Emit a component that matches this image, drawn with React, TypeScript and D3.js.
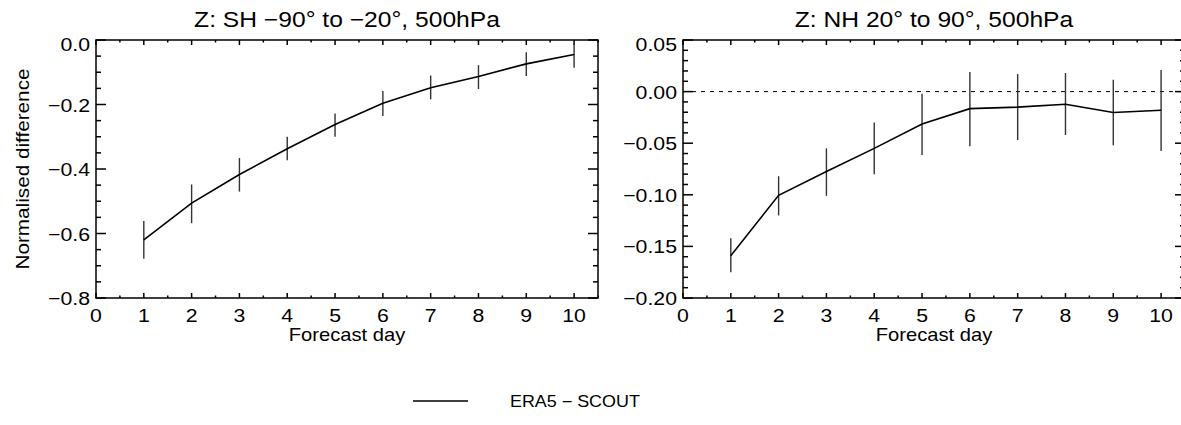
import React from 'react';
import * as d3 from 'd3';

// ---- data ----
const days = [1, 2, 3, 4, 5, 6, 7, 8, 9, 10];
const xTickValues = [0, 1, 2, 3, 4, 5, 6, 7, 8, 9, 10];

const shTitle = 'Z: SH \u221290\u00b0 to \u221220\u00b0, 500hPa';
const shValues = [-0.62, -0.506, -0.417, -0.337, -0.262, -0.196, -0.148, -0.113, -0.074, -0.045];
const shLower = [-0.678, -0.568, -0.470, -0.373, -0.300, -0.236, -0.184, -0.152, -0.112, -0.086];
const shUpper = [-0.561, -0.448, -0.366, -0.300, -0.228, -0.158, -0.110, -0.078, -0.038, -0.008];
const shYTicks = [0, -0.2, -0.4, -0.6, -0.8];

const nhTitle = 'Z: NH 20\u00b0 to 90\u00b0, 500hPa';
const nhValues = [-0.159, -0.1005, -0.0775, -0.055, -0.0315, -0.0165, -0.015, -0.0123, -0.0203, -0.018];
const nhLower = [-0.175, -0.120, -0.101, -0.080, -0.0615, -0.053, -0.047, -0.042, -0.052, -0.0575];
const nhUpper = [-0.142, -0.082, -0.055, -0.030, -0.002, 0.019, 0.017, 0.018, 0.0115, 0.021];
const nhYTicks = [0.05, 0, -0.05, -0.1, -0.15, -0.2];

const legendLabel = 'ERA5 \u2212 SCOUT';
const xAxisTitle = 'Forecast day';
const yAxisTitle = 'Normalised difference';

// ---- style ----
const FONT = '"Liberation Sans", Arial, Helvetica, sans-serif';
const SX = 1.12;

type TProps = {
  x: number; y: number; size: number; anchor?: string; rotate?: number; children: React.ReactNode;
};
function T({ x, y, size, anchor = 'middle', rotate = 0, children }: TProps) {
  return (
    <text
      transform={`translate(${x},${y}) rotate(${rotate}) scale(${SX},1)`}
      fontSize={size}
      fontFamily={FONT}
      textAnchor={anchor}
      fill="#000"
    >
      {children}
    </text>
  );
}

type PanelProps = {
  left: number; right: number; top: number; bottom: number;
  yDomain: [number, number];
  yTicks: number[];
  yMinorStep: number;
  yFormat: string;
  values: number[]; lower: number[]; upper: number[];
  title: string;
  showYTitle: boolean;
  zeroLine: boolean;
};

function Panel(p: PanelProps) {
  const x = d3.scaleLinear().domain([0, 10.5]).range([p.left, p.right]);
  const y = d3.scaleLinear().domain(p.yDomain).range([p.bottom, p.top]);
  const fmt = d3.format(p.yFormat);
  const nMinorY = Math.round((p.yDomain[1] - p.yDomain[0]) / p.yMinorStep);
  const yMinor = d3.range(0, nMinorY + 1).map((i) => p.yDomain[0] + i * p.yMinorStep);
  const xMinor = d3.range(0, 22).map((i) => i * 0.5);
  const line = d3
    .line<number>()
    .x((_, i) => x(days[i]))
    .y((d) => y(d));
  const yMajLen = 10, yMinLen = 5, xMajLen = 5, xMinLen = 2.5;
  const isMajorX = (v: number) => Math.abs(v - Math.round(v)) < 1e-6;
  const isMajorY = (v: number) => p.yTicks.some((t) => Math.abs(t - v) < 1e-6);
  const cx = (p.left + p.right) / 2;
  const yTop = p.yDomain[1];
  return (
    <g>
      {p.zeroLine && (
        <line x1={p.left} x2={p.right} y1={y(0)} y2={y(0)} stroke="#000" strokeWidth={1} strokeDasharray="4,5" />
      )}
      {/* x ticks bottom & top */}
      {xMinor.map((v, i) => {
        const L = isMajorX(v) ? xMajLen : xMinLen;
        return (
          <g key={'xt' + i}>
            <line x1={x(v)} x2={x(v)} y1={p.bottom} y2={p.bottom - L} stroke="#000" strokeWidth={1.5} />
            <line x1={x(v)} x2={x(v)} y1={p.top} y2={p.top + L} stroke="#000" strokeWidth={1.5} />
          </g>
        );
      })}
      {/* y ticks left & right */}
      {yMinor.map((v, i) => {
        const L = isMajorY(v) ? yMajLen : yMinLen;
        return (
          <g key={'yt' + i}>
            <line x1={p.left} x2={p.left + L} y1={y(v)} y2={y(v)} stroke="#000" strokeWidth={1.5} />
            <line x1={p.right} x2={p.right - L} y1={y(v)} y2={y(v)} stroke="#000" strokeWidth={1.5} />
          </g>
        );
      })}
      <rect x={p.left} y={p.top} width={p.right - p.left} height={p.bottom - p.top} fill="none" stroke="#000" strokeWidth={1.5} />
      {/* error bars */}
      {days.map((d, i) => (
        <line key={'eb' + i} x1={x(d)} x2={x(d)} y1={y(p.lower[i])} y2={y(p.upper[i])} stroke="#333" strokeWidth={1.4} />
      ))}
      <path d={line(p.values) || ''} fill="none" stroke="#000" strokeWidth={1.6} />
      {/* tick labels */}
      {xTickValues.map((v) => (
        <T key={'xl' + v} x={x(v)} y={p.bottom + 24} size={19}>{String(v)}</T>
      ))}
      {p.yTicks.map((v) => (
        <T key={'yl' + v} x={p.left - 6} y={y(v) + 7 + (Math.abs(v - yTop) < 1e-9 ? 4 : 0)} size={19} anchor="end">{fmt(v)}</T>
      ))}
      <T x={cx} y={p.bottom + 43} size={18}>{xAxisTitle}</T>
      <T x={cx} y={p.top - 13} size={22}>{p.title}</T>
      {p.showYTitle && (
        <T x={29} y={(p.top + p.bottom) / 2} size={18.5} rotate={-90}>{yAxisTitle}</T>
      )}
    </g>
  );
}

export default function App() {
  return (
    <svg width={1181} height={425} style={{ position: 'absolute', left: 0, top: 0, background: '#fff' }}>
      <rect x={0} y={0} width={1181} height={425} fill="#fff" />
      <Panel
        left={96} right={598} top={40} bottom={298}
        yDomain={[-0.8, 0]} yTicks={shYTicks} yMinorStep={0.05} yFormat=".1f"
        values={shValues} lower={shLower} upper={shUpper}
        title={shTitle} showYTitle={true} zeroLine={false}
      />
      <Panel
        left={683} right={1185} top={40} bottom={298}
        yDomain={[-0.2, 0.05]} yTicks={nhYTicks} yMinorStep={0.01} yFormat=".2f"
        values={nhValues} lower={nhLower} upper={nhUpper}
        title={nhTitle} showYTitle={false} zeroLine={true}
      />
      <line x1={413} x2={468} y1={401} y2={401} stroke="#000" strokeWidth={1.5} />
      <T x={510} y={407} size={16} anchor="start">{legendLabel}</T>
    </svg>
  );
}
